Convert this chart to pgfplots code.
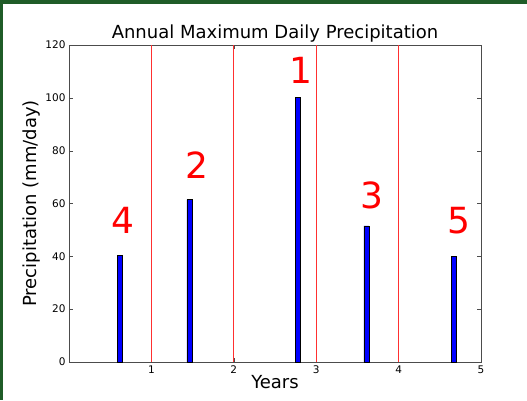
\documentclass[border=0pt]{standalone}
\usepackage{fontspec}
\setmainfont{DejaVu Sans}
\usepackage{pgfplots}
\pgfplotsset{compat=1.18}
\definecolor{framegreen}{HTML}{1F5C28}
\definecolor{vred}{HTML}{FF3030}
\begin{document}
\begin{tikzpicture}[x=1pt,y=1pt]
\path[use as bounding box] (-69,-38) rectangle (458,362);
\fill[framegreen] (-69,358) rectangle (458,362);
\fill[framegreen] (-69,-38) rectangle (-66,362);
\begin{axis}[
  at={(0,0)}, anchor=south west,
  scale only axis, width=412pt, height=317pt,
  xmin=0, xmax=5, ymin=0, ymax=120,
  xtick={1,2,3,4,5}, ytick={0,20,...,120},
  tick align=inside, major tick length=4pt,
  tick style={black!70},
  axis line style={black!70},
  /pgf/number format/assume math mode=true,
  ticklabel style={font=\fontsize{10.5}{12}\selectfont, text=black},
  title={Annual Maximum Daily Precipitation},
  title style={font=\fontsize{18}{20}\selectfont, yshift=-7pt},
  xlabel={Years}, ylabel={Precipitation (mm/day)},
  xlabel style={font=\fontsize{18}{20}\selectfont, yshift=5pt},
  ylabel style={font=\fontsize{18}{20}\selectfont, yshift=-2pt},
  clip=false,
]
\addplot[ycomb, draw=vred, line width=1.2pt, mark=none, forget plot]
  coordinates {(1,120) (2,120) (3,120) (4,120)};
\addplot[ybar, bar width=5pt, fill=blue, draw=black, line width=0.4pt]
  coordinates {(0.62,40.5) (1.46,61.5) (2.78,100.2) (3.61,51.5) (4.67,40)};
\node[red, font=\fontsize{36}{38}\selectfont] at (axis cs:0.66,53.5) {4};
\node[red, font=\fontsize{36}{38}\selectfont] at (axis cs:1.55,74.5) {2};
\node[red, font=\fontsize{36}{38}\selectfont] at (axis cs:2.82,110.5) {1};
\node[red, font=\fontsize{36}{38}\selectfont] at (axis cs:3.68,63) {3};
\node[red, font=\fontsize{36}{38}\selectfont] at (axis cs:4.73,53.5) {5};
\end{axis}
\end{tikzpicture}
\end{document}
